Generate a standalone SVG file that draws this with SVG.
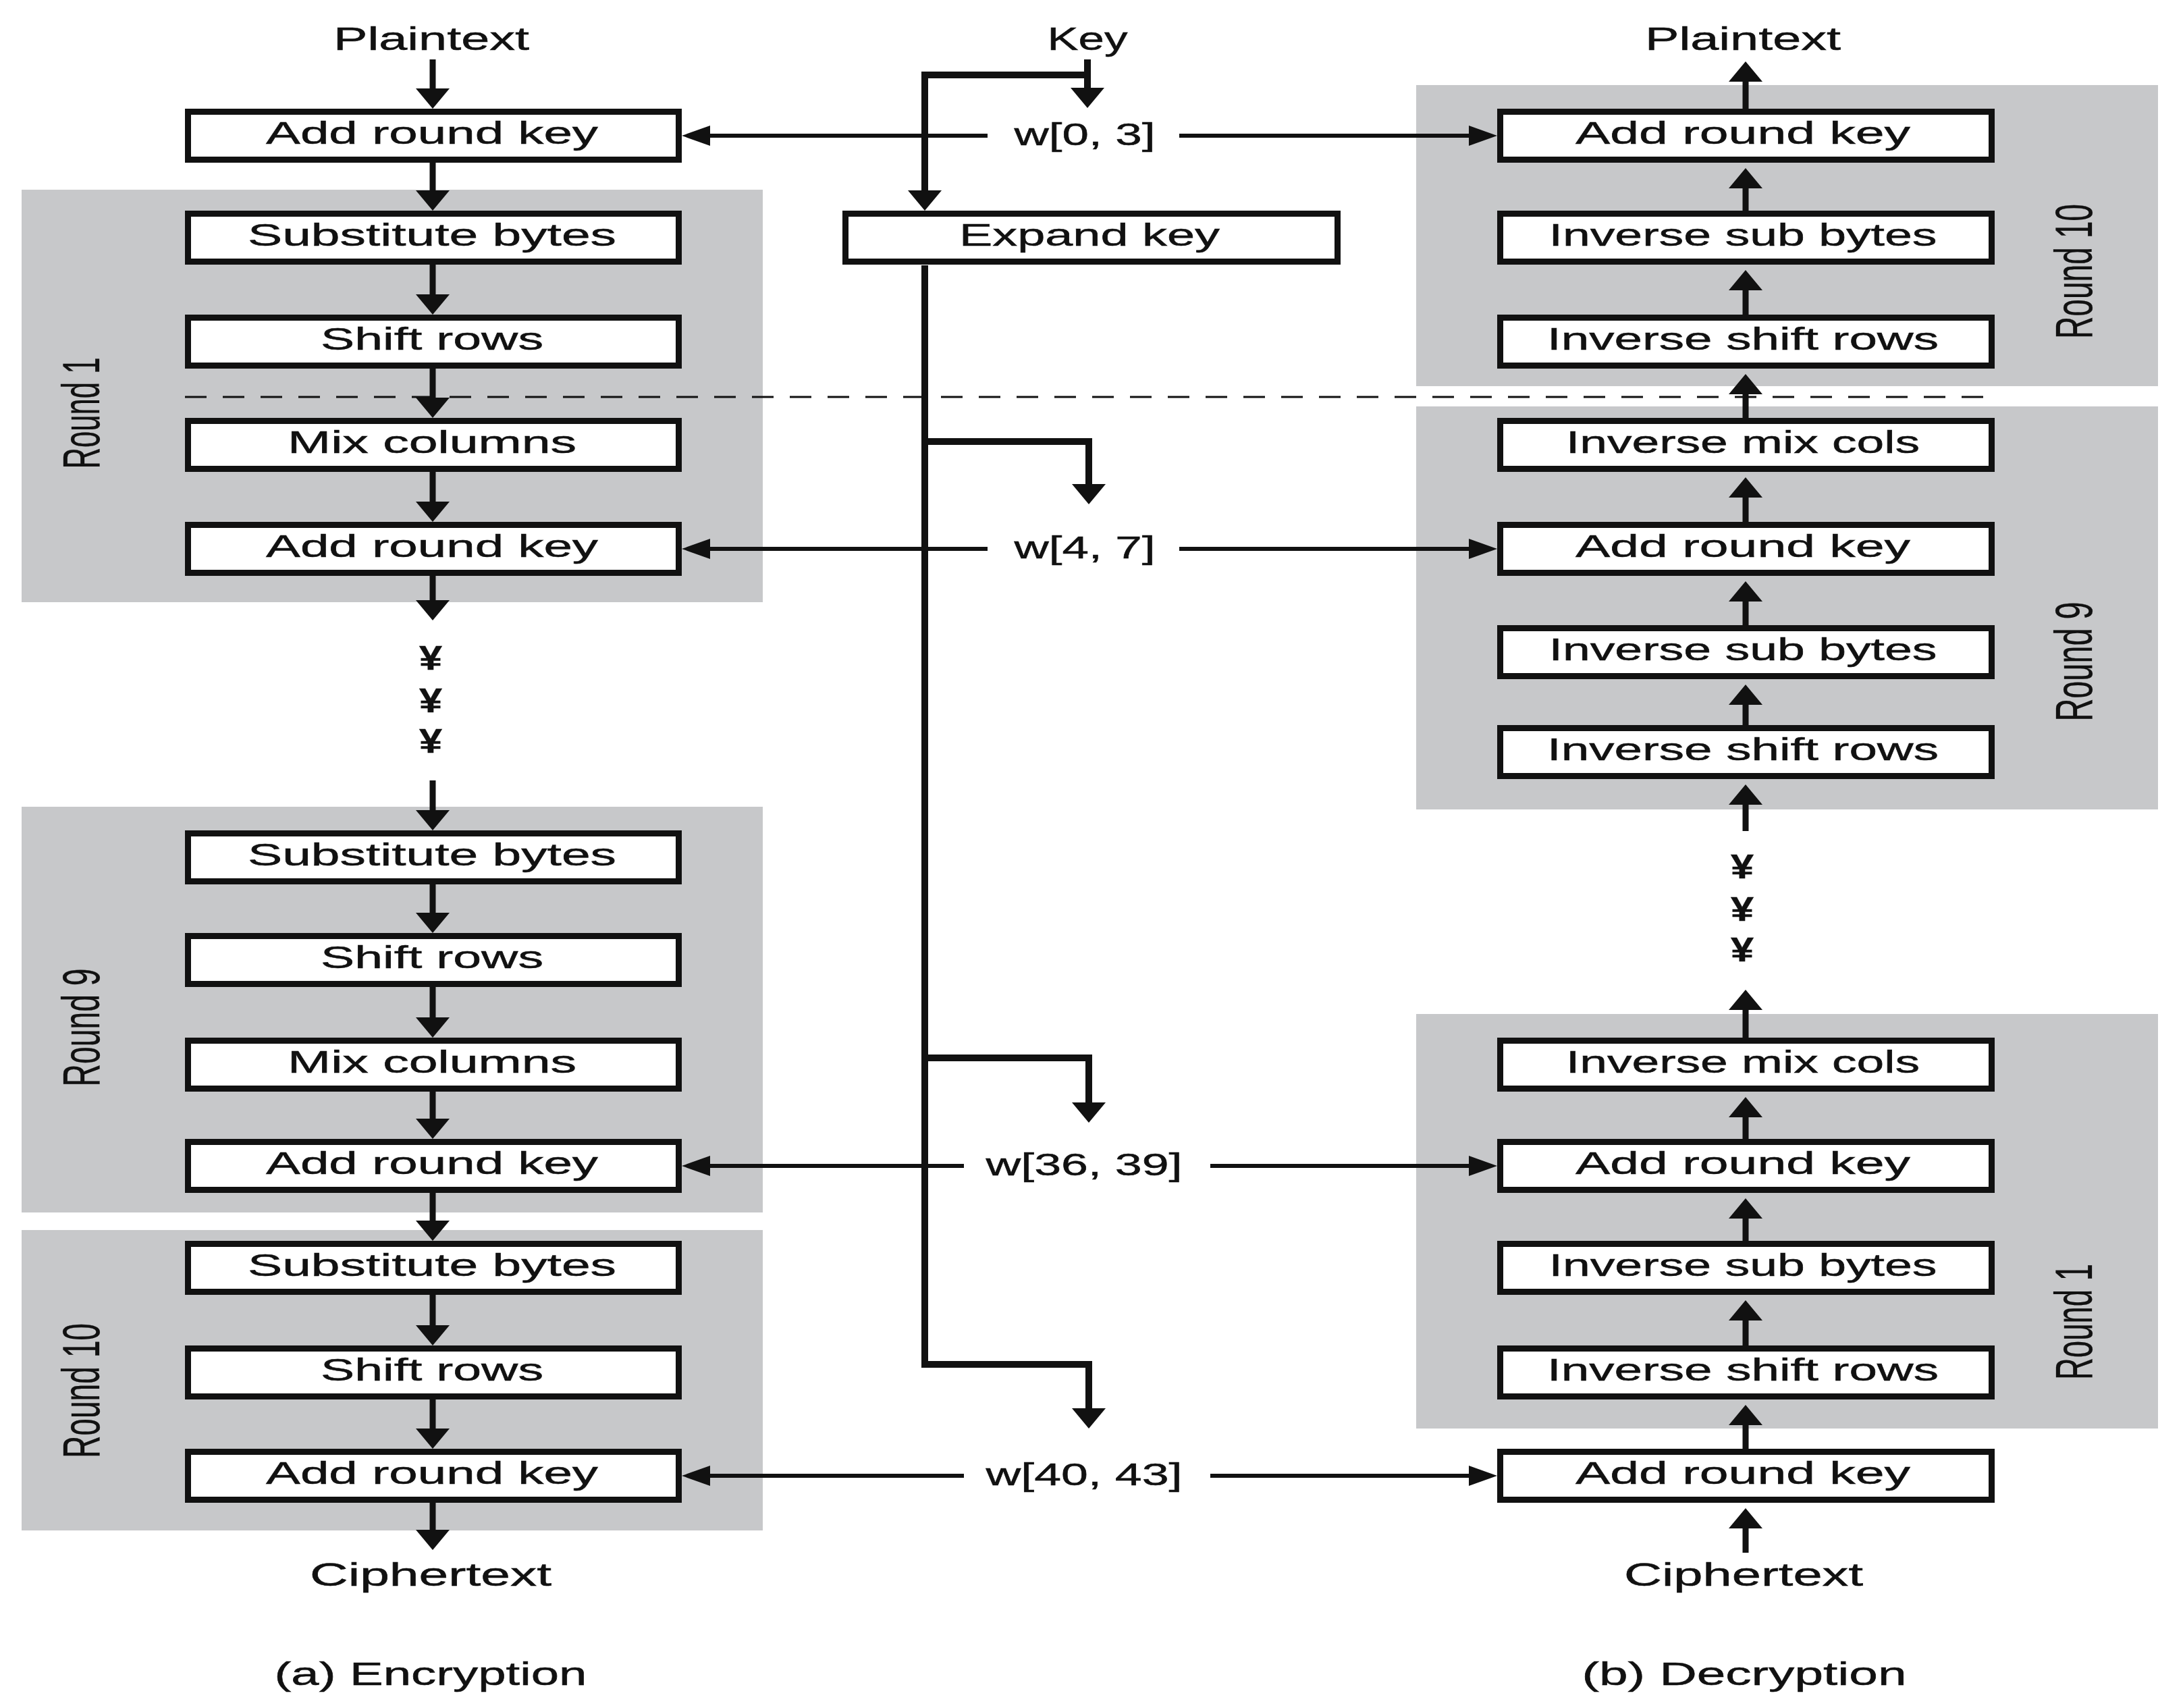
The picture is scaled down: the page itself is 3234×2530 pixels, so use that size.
<svg xmlns="http://www.w3.org/2000/svg" width="3234" height="2530" viewBox="0 0 3234 2530">
<style>
.bg{fill:#ffffff}
.round{fill:#c7c8ca}
.box{fill:#ffffff;stroke:#111;stroke-width:9}
.t{font-family:"Liberation Sans",Arial,sans-serif;fill:#111;text-anchor:middle;stroke:#111;stroke-width:0.5}
.bl{font-size:46px}
.lab{font-size:49px}
.wl{font-size:47px}
.rl{font-size:78px;stroke-width:0.3}
.yen{font-size:50px;font-weight:bold}
.thick{fill:none;stroke:#111;stroke-width:9}
.key{fill:none;stroke:#111;stroke-width:10}
.thin{fill:none;stroke:#111;stroke-width:6}
.dash{fill:none;stroke:#111;stroke-width:3;stroke-dasharray:32 24}
.av{marker-end:url(#av)}
.ah{marker-end:url(#ah)}
</style>
<defs>
<marker id="av" markerUnits="userSpaceOnUse" viewBox="0 0 30 50" markerWidth="30" markerHeight="50" refX="0" refY="25" orient="auto">
<path d="M0,0 L30,25 L0,50 z" fill="#111"/>
</marker>
<marker id="ah" markerUnits="userSpaceOnUse" viewBox="0 0 42 30" markerWidth="42" markerHeight="30" refX="0" refY="15" orient="auto">
<path d="M0,0 L42,15 L0,30 z" fill="#111"/>
</marker>
</defs>
<rect class="bg" x="0" y="0" width="3234" height="2530"/>

<g id="rounds">
<rect class="round" x="32" y="281" width="1098" height="611"/>
<rect class="round" x="32" y="1195" width="1098" height="601"/>
<rect class="round" x="32" y="1822" width="1098" height="445"/>
<rect class="round" x="2098" y="126" width="1099" height="446"/>
<rect class="round" x="2098" y="602" width="1099" height="597"/>
<rect class="round" x="2098" y="1502" width="1099" height="614"/>
<text class="t rl" transform="translate(147,612) rotate(-90)" textLength="165" lengthAdjust="spacingAndGlyphs">Round 1</text>
<text class="t rl" transform="translate(147,1522) rotate(-90)" textLength="175" lengthAdjust="spacingAndGlyphs">Round 9</text>
<text class="t rl" transform="translate(147,2060) rotate(-90)" textLength="200" lengthAdjust="spacingAndGlyphs">Round 10</text>
<text class="t rl" transform="translate(3099,402) rotate(-90)" textLength="200" lengthAdjust="spacingAndGlyphs">Round 10</text>
<text class="t rl" transform="translate(3099,980) rotate(-90)" textLength="177" lengthAdjust="spacingAndGlyphs">Round 9</text>
<text class="t rl" transform="translate(3099,1958) rotate(-90)" textLength="172" lengthAdjust="spacingAndGlyphs">Round 1</text>
</g>

<line id="divider" class="dash" x1="274" y1="588" x2="2951" y2="588"/>

<g id="connectors">
<line class="thick av" x1="641" y1="88" x2="641" y2="131"/>
<line class="thick av" x1="641" y1="241" x2="641" y2="282"/>
<line class="thick av" x1="641" y1="392" x2="641" y2="436"/>
<line class="thick av" x1="641" y1="546" x2="641" y2="589"/>
<line class="thick av" x1="641" y1="699" x2="641" y2="743"/>
<line class="thick av" x1="641" y1="853" x2="641" y2="889"/>
<line class="thick av" x1="641" y1="1156" x2="641" y2="1200"/>
<line class="thick av" x1="641" y1="1310" x2="641" y2="1352"/>
<line class="thick av" x1="641" y1="1462" x2="641" y2="1507"/>
<line class="thick av" x1="641" y1="1617" x2="641" y2="1657"/>
<line class="thick av" x1="641" y1="1767" x2="641" y2="1808"/>
<line class="thick av" x1="641" y1="1918" x2="641" y2="1963"/>
<line class="thick av" x1="641" y1="2073" x2="641" y2="2116"/>
<line class="thick av" x1="641" y1="2226" x2="641" y2="2266"/>
<line class="thick av" x1="2586" y1="161" x2="2586" y2="121"/>
<line class="thick av" x1="2586" y1="312" x2="2586" y2="279"/>
<line class="thick av" x1="2586" y1="466" x2="2586" y2="430"/>
<line class="thick av" x1="2586" y1="619" x2="2586" y2="584"/>
<line class="thick av" x1="2586" y1="773" x2="2586" y2="737"/>
<line class="thick av" x1="2586" y1="926" x2="2586" y2="891"/>
<line class="thick av" x1="2586" y1="1074" x2="2586" y2="1044"/>
<line class="thick av" x1="2586" y1="1231" x2="2586" y2="1192"/>
<line class="thick av" x1="2586" y1="1537" x2="2586" y2="1496"/>
<line class="thick av" x1="2586" y1="1687" x2="2586" y2="1655"/>
<line class="thick av" x1="2586" y1="1838" x2="2586" y2="1805"/>
<line class="thick av" x1="2586" y1="1993" x2="2586" y2="1956"/>
<line class="thick av" x1="2586" y1="2146" x2="2586" y2="2111"/>
<line class="thick av" x1="2586" y1="2300" x2="2586" y2="2264"/>
<line class="key av" x1="1611" y1="88" x2="1611" y2="130"/>
<path class="key av" d="M1611,111 H1370 V282"/>
<path class="key av" d="M1370,393 V2021 H1613 V2086"/>
<path class="key av" d="M1370,654 H1613 V717"/>
<path class="key av" d="M1370,1567 H1613 V1633"/>
<line class="thin ah" x1="1463" y1="201" x2="1052" y2="201"/>
<line class="thin ah" x1="1747" y1="201" x2="2176" y2="201"/>
<line class="thin ah" x1="1463" y1="813" x2="1052" y2="813"/>
<line class="thin ah" x1="1747" y1="813" x2="2176" y2="813"/>
<line class="thin ah" x1="1428" y1="1727" x2="1052" y2="1727"/>
<line class="thin ah" x1="1793" y1="1727" x2="2176" y2="1727"/>
<line class="thin ah" x1="1428" y1="2186" x2="1052" y2="2186"/>
<line class="thin ah" x1="1793" y1="2186" x2="2176" y2="2186"/>
</g>

<g id="labels">
<text class="t lab" x="639" y="74" textLength="290" lengthAdjust="spacingAndGlyphs">Plaintext</text>
<text class="t lab" x="1611" y="74" textLength="119" lengthAdjust="spacingAndGlyphs">Key</text>
<text class="t lab" x="2582" y="74" textLength="290" lengthAdjust="spacingAndGlyphs">Plaintext</text>
<text class="t lab" x="638" y="2349" textLength="358" lengthAdjust="spacingAndGlyphs">Ciphertext</text>
<text class="t lab" x="2583" y="2349" textLength="354" lengthAdjust="spacingAndGlyphs">Ciphertext</text>
<text class="t lab" x="638" y="2496" textLength="463" lengthAdjust="spacingAndGlyphs">(a) Encryption</text>
<text class="t lab" x="2584" y="2496" textLength="481" lengthAdjust="spacingAndGlyphs">(b) Decryption</text>
<text class="t yen" x="638" y="992" textLength="34" lengthAdjust="spacingAndGlyphs">¥</text>
<text class="t yen" x="638" y="1055" textLength="34" lengthAdjust="spacingAndGlyphs">¥</text>
<text class="t yen" x="638" y="1115" textLength="34" lengthAdjust="spacingAndGlyphs">¥</text>
<text class="t yen" x="2581" y="1301" textLength="34" lengthAdjust="spacingAndGlyphs">¥</text>
<text class="t yen" x="2581" y="1364" textLength="34" lengthAdjust="spacingAndGlyphs">¥</text>
<text class="t yen" x="2581" y="1424" textLength="34" lengthAdjust="spacingAndGlyphs">¥</text>
<text class="t wl" x="1607" y="215" textLength="209" lengthAdjust="spacingAndGlyphs">w[0, 3]</text>
<text class="t wl" x="1607" y="827" textLength="209" lengthAdjust="spacingAndGlyphs">w[4, 7]</text>
<text class="t wl" x="1606" y="1741" textLength="291" lengthAdjust="spacingAndGlyphs">w[36, 39]</text>
<text class="t wl" x="1606" y="2200" textLength="291" lengthAdjust="spacingAndGlyphs">w[40, 43]</text>
</g>

<g id="expand-key"><rect class="box" x="1252.5" y="316.5" width="729" height="71"/><text class="t bl" x="1614" y="364" textLength="386" lengthAdjust="spacingAndGlyphs">Expand key</text></g>

<g id="enc-ark0"><rect class="box" x="278.5" y="165.5" width="727" height="71"/><text class="t bl" x="640" y="213" textLength="492" lengthAdjust="spacingAndGlyphs">Add round key</text></g>
<g id="enc-r1-sub"><rect class="box" x="278.5" y="316.5" width="727" height="71"/><text class="t bl" x="640" y="364" textLength="546" lengthAdjust="spacingAndGlyphs">Substitute bytes</text></g>
<g id="enc-r1-shift"><rect class="box" x="278.5" y="470.5" width="727" height="71"/><text class="t bl" x="640" y="518" textLength="330" lengthAdjust="spacingAndGlyphs">Shift rows</text></g>
<g id="enc-r1-mix"><rect class="box" x="278.5" y="623.5" width="727" height="71"/><text class="t bl" x="640" y="671" textLength="428" lengthAdjust="spacingAndGlyphs">Mix columns</text></g>
<g id="enc-r1-ark"><rect class="box" x="278.5" y="777.5" width="727" height="71"/><text class="t bl" x="640" y="825" textLength="492" lengthAdjust="spacingAndGlyphs">Add round key</text></g>
<g id="enc-r9-sub"><rect class="box" x="278.5" y="1234.5" width="727" height="71"/><text class="t bl" x="640" y="1282" textLength="546" lengthAdjust="spacingAndGlyphs">Substitute bytes</text></g>
<g id="enc-r9-shift"><rect class="box" x="278.5" y="1386.5" width="727" height="71"/><text class="t bl" x="640" y="1434" textLength="330" lengthAdjust="spacingAndGlyphs">Shift rows</text></g>
<g id="enc-r9-mix"><rect class="box" x="278.5" y="1541.5" width="727" height="71"/><text class="t bl" x="640" y="1589" textLength="428" lengthAdjust="spacingAndGlyphs">Mix columns</text></g>
<g id="enc-r9-ark"><rect class="box" x="278.5" y="1691.5" width="727" height="71"/><text class="t bl" x="640" y="1739" textLength="492" lengthAdjust="spacingAndGlyphs">Add round key</text></g>
<g id="enc-r10-sub"><rect class="box" x="278.5" y="1842.5" width="727" height="71"/><text class="t bl" x="640" y="1890" textLength="546" lengthAdjust="spacingAndGlyphs">Substitute bytes</text></g>
<g id="enc-r10-shift"><rect class="box" x="278.5" y="1997.5" width="727" height="71"/><text class="t bl" x="640" y="2045" textLength="330" lengthAdjust="spacingAndGlyphs">Shift rows</text></g>
<g id="enc-r10-ark"><rect class="box" x="278.5" y="2150.5" width="727" height="71"/><text class="t bl" x="640" y="2198" textLength="492" lengthAdjust="spacingAndGlyphs">Add round key</text></g>

<g id="dec-r10-ark"><rect class="box" x="2222.5" y="165.5" width="728" height="71"/><text class="t bl" x="2582" y="213" textLength="496" lengthAdjust="spacingAndGlyphs">Add round key</text></g>
<g id="dec-r10-isub"><rect class="box" x="2222.5" y="316.5" width="728" height="71"/><text class="t bl" x="2582" y="364" textLength="575" lengthAdjust="spacingAndGlyphs">Inverse sub bytes</text></g>
<g id="dec-r10-ishift"><rect class="box" x="2222.5" y="470.5" width="728" height="71"/><text class="t bl" x="2582" y="518" textLength="580" lengthAdjust="spacingAndGlyphs">Inverse shift rows</text></g>
<g id="dec-r9-imix"><rect class="box" x="2222.5" y="623.5" width="728" height="71"/><text class="t bl" x="2582" y="671" textLength="524" lengthAdjust="spacingAndGlyphs">Inverse mix cols</text></g>
<g id="dec-r9-ark"><rect class="box" x="2222.5" y="777.5" width="728" height="71"/><text class="t bl" x="2582" y="825" textLength="496" lengthAdjust="spacingAndGlyphs">Add round key</text></g>
<g id="dec-r9-isub"><rect class="box" x="2222.5" y="930.5" width="728" height="71"/><text class="t bl" x="2582" y="978" textLength="575" lengthAdjust="spacingAndGlyphs">Inverse sub bytes</text></g>
<g id="dec-r9-ishift"><rect class="box" x="2222.5" y="1078.5" width="728" height="71"/><text class="t bl" x="2582" y="1126" textLength="580" lengthAdjust="spacingAndGlyphs">Inverse shift rows</text></g>
<g id="dec-r1-imix"><rect class="box" x="2222.5" y="1541.5" width="728" height="71"/><text class="t bl" x="2582" y="1589" textLength="524" lengthAdjust="spacingAndGlyphs">Inverse mix cols</text></g>
<g id="dec-r1-ark"><rect class="box" x="2222.5" y="1691.5" width="728" height="71"/><text class="t bl" x="2582" y="1739" textLength="496" lengthAdjust="spacingAndGlyphs">Add round key</text></g>
<g id="dec-r1-isub"><rect class="box" x="2222.5" y="1842.5" width="728" height="71"/><text class="t bl" x="2582" y="1890" textLength="575" lengthAdjust="spacingAndGlyphs">Inverse sub bytes</text></g>
<g id="dec-r1-ishift"><rect class="box" x="2222.5" y="1997.5" width="728" height="71"/><text class="t bl" x="2582" y="2045" textLength="580" lengthAdjust="spacingAndGlyphs">Inverse shift rows</text></g>
<g id="dec-ark0"><rect class="box" x="2222.5" y="2150.5" width="728" height="71"/><text class="t bl" x="2582" y="2198" textLength="496" lengthAdjust="spacingAndGlyphs">Add round key</text></g>
</svg>
